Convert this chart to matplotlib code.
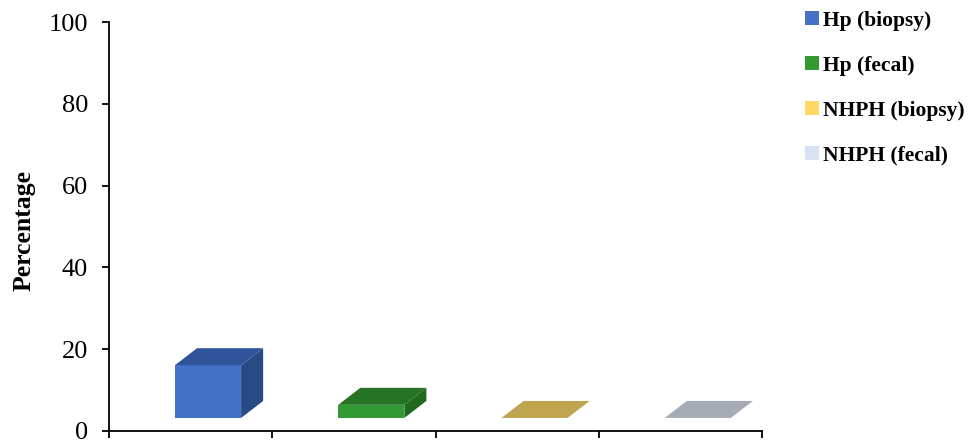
import matplotlib.pyplot as plt
from matplotlib.patches import Polygon, Patch

# Datos
series = ["Hp (biopsy)", "Hp (fecal)", "NHPH (biopsy)", "NHPH (fecal)"]
values = [12.9, 3.2, 0.0, 0.0]

# Colores: cara frontal, cara superior, cara lateral, leyenda
front_colors = ["#4472C4", "#339933", "#C0A450", "#A5ACB6"]
top_colors = ["#30539A", "#267326", "#C0A450", "#A5ACB6"]
side_colors = ["#294A84", "#1F6A1F", "#A88F45", "#8F96A0"]
legend_colors = ["#4472C4", "#339933", "#FFD966", "#D9E2F3"]

plt.rcParams['font.family'] = ['Liberation Serif', 'DejaVu Serif']

fig = plt.figure(figsize=(9.77, 4.42), dpi=100)
ax = fig.add_axes([0.1116, 0.0249, 0.6684, 0.9251])

floor = 3.2      # base del suelo 3D
offset = -0.096  # desplazamiento de la cara frontal
width = 0.405
dx, dy = 0.135, 4.15  # profundidad

for i, v in enumerate(values):
    x0 = i + offset
    top = floor + v
    if v > 0:
        ax.bar(x0, v, width=width, bottom=floor, align="edge",
               color=front_colors[i], linewidth=0, zorder=2)
        ax.add_patch(Polygon([(x0 + width, floor), (x0 + width + dx, floor + dy),
                              (x0 + width + dx, top + dy), (x0 + width, top)],
                             closed=True, facecolor=side_colors[i], linewidth=0, zorder=2))
    ax.add_patch(Polygon([(x0, top), (x0 + width, top),
                          (x0 + width + dx, top + dy), (x0 + dx, top + dy)],
                         closed=True, facecolor=top_colors[i], linewidth=0, zorder=2))

ax.set_xlim(-0.5, len(values) - 0.5)
ax.set_ylim(0, 100)
ax.set_yticks(range(0, 101, 20))
ax.set_xticks([i - 0.5 for i in range(len(values) + 1)])
ax.set_xticklabels([])

for s in ["top", "right"]:
    ax.spines[s].set_visible(False)
for s in ["left", "bottom"]:
    ax.spines[s].set_linewidth(1.3)
ax.tick_params(axis="y", direction="out", length=5, width=1.3, pad=10, labelsize=19)
ax.tick_params(axis="x", direction="out", length=5, width=1.3)

ax.set_ylabel("Percentage", fontsize=18.5, fontweight="bold")
ax.yaxis.set_label_coords(-0.113, 0.49)

handles = [Patch(facecolor=c, edgecolor="none") for c in legend_colors]
fig.legend(handles, series, loc="upper left", bbox_to_anchor=(0.822, 0.98),
           frameon=False, borderpad=0.1, borderaxespad=0,
           handlelength=0.62, handleheight=0.62, handletextpad=0.22,
           labelspacing=1.16, prop={"size": 15.5, "weight": "bold"})

fig.savefig("out.png", dpi=100)
